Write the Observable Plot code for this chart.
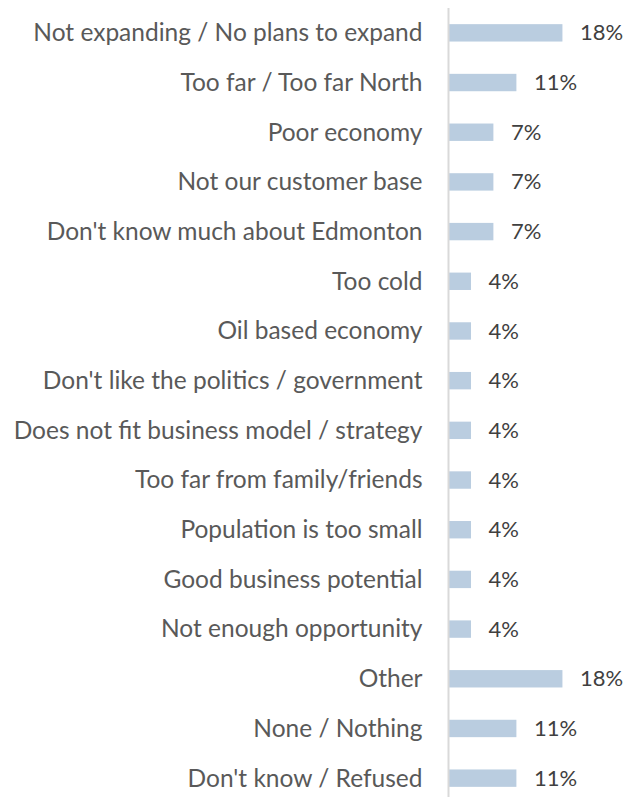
<!DOCTYPE html>
<html>
<head>
<meta charset="utf-8">
<script src="https://cdn.jsdelivr.net/npm/d3@7"></script>
<script src="https://cdn.jsdelivr.net/npm/@observablehq/plot@0.6"></script>
<style>
  html, body { margin: 0; padding: 0; background: #fff; }
  svg { display: block; }
</style>
</head>
<body>
<div id="chart"></div>
<script>
const categories = [
  "Not expanding / No plans to expand",
  "Too far / Too far North",
  "Poor economy",
  "Not our customer base",
  "Don't know much about Edmonton",
  "Too cold",
  "Oil based economy",
  "Don't like the politics / government",
  "Does not fit business model / strategy",
  "Too far from family/friends",
  "Population is too small",
  "Good business potential",
  "Not enough opportunity",
  "Other",
  "None / Nothing",
  "Don't know / Refused"
];
const values = [17.9, 10.7, 7.1, 7.1, 7.1, 3.6, 3.6, 3.6, 3.6, 3.6, 3.6, 3.6, 3.6, 17.9, 10.7, 10.7];

const data = categories.map((c, i) => ({category: c, value: values[i]}));

const chart = Plot.plot({
  width: 627,
  height: 803,
  marginLeft: 448,
  marginRight: 0,
  marginTop: 8,
  marginBottom: 0,
  style: {fontFamily: "Lato, 'Open Sans', sans-serif", background: "#fff"},
  x: {domain: [0, 28], axis: null},
  y: {domain: categories, paddingInner: 0.65, paddingOuter: 0.325, round: false, label: null},
  marks: [
    Plot.barX(data, {x: "value", y: "category", fill: "#bacde0"}),
    Plot.ruleX([0], {stroke: "#d9d9d9", strokeWidth: 2}),
    Plot.text(data, {x: "value", y: "category", text: d => Math.round(d.value) + "%", textAnchor: "start", dx: 17, fontSize: 22, fill: "#404040"}),
    Plot.axisY({tickSize: 0, tickPadding: 26, fontSize: 24.5, color: "#595959", label: null})
  ]
});
chart.querySelectorAll("[aria-label='y-axis tick label'] text").forEach(t => t.setAttribute("fill", "#595959"));
document.getElementById("chart").appendChild(chart);
</script>
</body>
</html>
